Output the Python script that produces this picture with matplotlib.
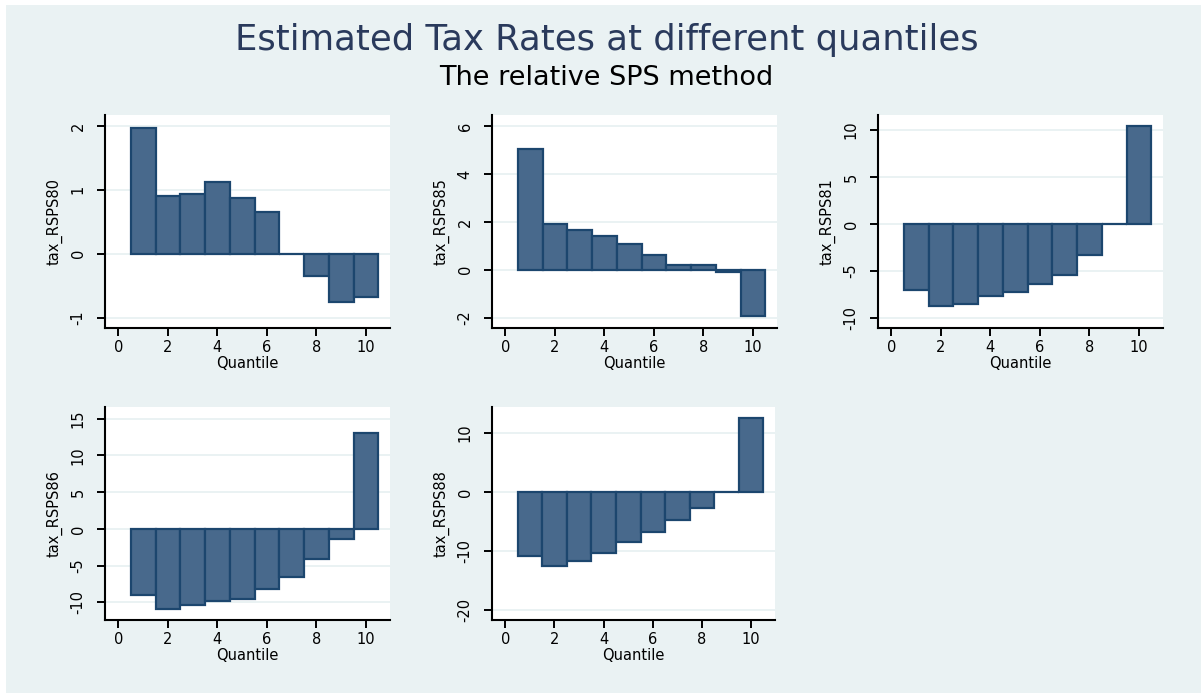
import matplotlib
matplotlib.use("Agg")
import matplotlib.pyplot as plt
from matplotlib.patches import Rectangle

plt.rcParams['font.family'] = ['DejaVu Sans']

quantiles = [1, 2, 3, 4, 5, 6, 7, 8, 9, 10]
x_ticks = [0, 2, 4, 6, 8, 10]

tax_RSPS80 = [1.97, 0.91, 0.94, 1.13, 0.88, 0.66, -0.005, -0.35, -0.755, -0.67]
tax_RSPS85 = [5.03, 1.92, 1.67, 1.42, 1.08, 0.60, 0.18, 0.18, -0.11, -1.94]
tax_RSPS81 = [-7.04, -8.74, -8.53, -7.68, -7.22, -6.37, -5.49, -3.36, -0.05, 10.48]
tax_RSPS86 = [-8.96, -10.95, -10.36, -9.86, -9.59, -8.19, -6.60, -4.16, -1.40, 13.03]
tax_RSPS88 = [-10.9, -12.6, -11.64, -10.34, -8.53, -6.78, -4.80, -2.70, -0.05, 12.54]

panels = [
    ("tax_RSPS80", tax_RSPS80, [-1, 0, 1, 2], (-1.16, 2.17)),
    ("tax_RSPS85", tax_RSPS85, [-2, 0, 2, 4, 6], (-2.43, 6.46)),
    ("tax_RSPS81", tax_RSPS81, [-10, -5, 0, 5, 10], (-11.1, 11.6)),
    ("tax_RSPS86", tax_RSPS86, [-10, -5, 0, 5, 10, 15], (-12.4, 16.6)),
    ("tax_RSPS88", tax_RSPS88, [-20, -10, 0, 10], (-21.7, 14.4)),
]

W, H = 1201, 693
fig = plt.figure(figsize=(W / 100, H / 100), dpi=100, facecolor="white")

BG = "#EAF2F3"
BAR = "#48698C"
EDGE = "#1C466E"

# graph region
fig.patches.append(Rectangle((6 / W, 0), 1 - 6 / W, (H - 5) / H,
                             transform=fig.transFigure, facecolor=BG,
                             edgecolor="none", zorder=-10))

fig.text(607 / W, 1 - 40 / H, "Estimated Tax Rates at different quantiles",
         ha="center", va="center", fontsize=25.5, color="#2A3A5C")
fig.text(606 / W, 1 - 78 / H, "The relative SPS method",
         ha="center", va="center", fontsize=19.5, color="black")

# plot-region boxes in pixel coordinates: (left, top, right, bottom)
boxes = [
    (105, 115, 390, 328),
    (492, 115, 777, 328),
    (878, 115, 1163, 328),
    (105, 407, 390, 620),
    (492, 407, 775, 620),
]

for (name, vals, yt, ylim), (l, t, r, b) in zip(panels, boxes):
    w_px, h_px = r - l, b - t
    ax = fig.add_axes([l / W, 1 - b / H, w_px / W, h_px / H])
    ax.set_facecolor("white")
    ax.bar(quantiles, vals, width=1.0, color=BAR, edgecolor=EDGE,
           linewidth=1.6, zorder=3)
    ax.set_xlim(-0.54, 10.97)
    ax.set_ylim(*ylim)
    ax.set_xticks(x_ticks)
    ax.set_yticks(yt)
    ax.set_yticklabels([str(v) for v in yt], rotation=90, va="center")
    ax.grid(axis="y", color=BG, linewidth=1.4, zorder=0)
    for s in ("top", "right"):
        ax.spines[s].set_visible(False)
    for s in ("left", "bottom"):
        ax.spines[s].set_linewidth(1.5)
        ax.spines[s].set_color("black")
    ax.tick_params(axis="both", length=6, width=1.4, labelsize=10.5,
                   colors="black")
    ax.tick_params(axis="x", pad=3)
    ax.tick_params(axis="y", pad=8)
    ax.set_xlabel("Quantile", fontsize=10.5, va="center")
    ax.xaxis.set_label_coords(0.5, -36 / h_px)
    ax.set_ylabel(name, fontsize=10.5, va="center")
    ax.yaxis.set_label_coords(-50 / w_px, 0.5)

fig.savefig("out.png", dpi=100, facecolor="white")
